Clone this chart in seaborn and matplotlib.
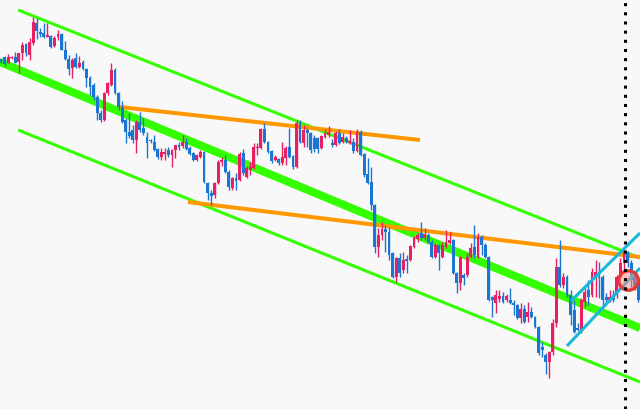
import numpy as np
import pandas as pd
import seaborn as sns
import matplotlib
matplotlib.use("Agg")
import matplotlib.pyplot as plt

# candle data (arbitrary price units)
opens = [341, 343, 337, 342, 343, 338, 347, 356, 345, 357, 377, 368, 367, 363, 364, 354, 363, 366, 350, 341,
         332, 342, 333, 338, 331, 322, 315, 303, 287, 280, 307, 315, 330, 307, 293, 280, 268, 270, 260, 278,
         272, 263, 260, 258, 251, 243, 246, 250, 245, 250, 255, 254, 258, 252, 247, 240, 243, 248, 217, 207,
         205, 217, 238, 240, 228, 212, 222, 220, 247, 223, 230, 232, 252, 252, 271, 258, 249, 240, 241, 237,
         242, 253, 244, 233, 277, 257, 270, 267, 262, 262, 252, 263, 265, 257, 255, 267, 258, 262, 257, 258,
         249, 268, 246, 226, 218, 195, 153, 165, 171, 168, 147, 123, 142, 130, 141, 140, 153, 161, 167, 162,
         165, 158, 143, 155, 143, 153, 157, 160, 127, 117, 125, 125, 143, 153, 143, 163, 155, 143, 103, 97,
         101, 104, 100, 100, 97, 95, 82, 91, 83, 88, 83, 73, 53, 45, 38, 48, 77, 133, 115, 123,
         105, 90, 72, 68, 98, 110, 105, 123, 123, 123, 103, 100, 105, 105, 123, 137, 147, 137, 125, 122]
highs = [342, 344, 346, 344, 348, 347, 358, 357, 362, 383, 382, 372, 377, 377, 365, 364, 370, 367, 359, 345,
         342, 347, 344, 340, 332, 324, 317, 305, 290, 308, 318, 337, 332, 308, 299, 282, 287, 275, 280, 288,
         282, 268, 261, 265, 252, 252, 252, 253, 251, 255, 258, 265, 262, 254, 248, 246, 250, 249, 218, 210,
         218, 240, 243, 245, 230, 223, 227, 248, 251, 234, 238, 257, 257, 272, 277, 259, 250, 245, 242, 258,
         254, 272, 245, 280, 280, 275, 272, 268, 265, 263, 265, 271, 274, 261, 269, 271, 267, 264, 270, 262,
         271, 270, 247, 242, 233, 196, 172, 178, 175, 173, 148, 143, 147, 148, 145, 155, 164, 167, 178, 172,
         167, 160, 157, 156, 158, 170, 168, 161, 128, 144, 127, 147, 157, 175, 167, 165, 157, 144, 104, 110,
         110, 108, 106, 112, 100, 96, 97, 95, 98, 93, 84, 74, 58, 47, 49, 81, 142, 160, 127, 125,
         110, 100, 77, 102, 112, 120, 132, 140, 138, 125, 107, 110, 110, 125, 142, 152, 149, 140, 128, 124]
lows = [337, 334, 337, 341, 337, 327, 340, 344, 340, 355, 361, 363, 362, 363, 352, 353, 360, 350, 340, 325,
        322, 332, 332, 330, 313, 305, 300, 280, 278, 279, 305, 314, 306, 290, 277, 257, 262, 257, 247, 268,
        265, 242, 257, 249, 241, 240, 240, 243, 233, 242, 250, 252, 250, 245, 239, 239, 242, 217, 200, 195,
        202, 216, 234, 227, 210, 210, 210, 219, 225, 222, 225, 231, 245, 251, 257, 247, 237, 239, 235, 235,
        235, 242, 231, 232, 257, 253, 253, 247, 248, 247, 251, 262, 263, 253, 254, 256, 257, 257, 256, 247,
        248, 244, 223, 216, 190, 147, 143, 160, 148, 140, 122, 118, 123, 127, 127, 139, 152, 158, 160, 160,
        157, 142, 142, 130, 142, 152, 156, 126, 107, 110, 115, 123, 142, 142, 142, 145, 142, 99, 83, 87,
        98, 97, 98, 96, 85, 81, 77, 77, 78, 82, 72, 45, 43, 26, 22, 45, 73, 113, 112, 103,
        75, 67, 69, 67, 93, 95, 103, 103, 102, 93, 98, 98, 98, 102, 122, 127, 133, 113, 110, 98]
closes = [338, 336, 343, 343, 337, 347, 355, 347, 358, 378, 369, 366, 363, 365, 353, 362, 366, 350, 341, 331,
          340, 333, 337, 331, 322, 313, 303, 287, 280, 307, 317, 330, 307, 293, 278, 268, 264, 260, 278, 270,
          267, 257, 259, 250, 243, 248, 248, 245, 250, 255, 253, 258, 251, 246, 240, 245, 248, 218, 207, 204,
          217, 238, 240, 228, 213, 222, 219, 246, 227, 232, 233, 253, 253, 271, 258, 248, 239, 243, 237, 243,
          252, 243, 233, 277, 258, 270, 267, 250, 251, 251, 264, 267, 268, 255, 267, 257, 263, 258, 259, 249,
          268, 245, 225, 217, 195, 153, 165, 171, 168, 145, 123, 142, 127, 140, 139, 154, 162, 165, 162, 166,
          158, 143, 155, 147, 155, 158, 160, 127, 117, 143, 122, 143, 152, 145, 163, 155, 143, 100, 100, 105,
          104, 98, 104, 97, 95, 82, 91, 78, 88, 83, 73, 47, 50, 38, 48, 77, 133, 115, 123, 105,
          85, 68, 70, 100, 108, 103, 128, 128, 122, 100, 100, 103, 100, 123, 137, 150, 137, 120, 112, 100]

# drawn objects: (candle index, price) end points
channel_mid = [(-0.3, 338), (179.5, 72)]
channel_top = [(4.8, 390), (179.5, 142)]
channel_bot = [(4.8, 270), (179.5, 18)]
orange_top = [(33.4, 293), (117.7, 260)]
orange_bot = [(52.5, 198), (179.5, 143)]
cyan_top = [(160.1, 99), (179.5, 167)]
cyan_bot = [(159.0, 54), (179.5, 132)]
marker_point = (176.1, 120)
cursor_index = 175.4

df = pd.DataFrame({"open": opens, "high": highs, "low": lows, "close": closes})
df["idx"] = np.arange(len(df))
df["up"] = df["close"] >= df["open"]

sns.set_theme(style="white")
bg = "#f8f8f8"
up_color = "#e91e63"
down_color = "#1976d2"

fig = plt.figure(figsize=(6.4, 4.09), dpi=100, facecolor=bg)
ax = fig.add_axes([0, 0, 1, 1])
ax.set_facecolor(bg)

def trend(pts, color, lw, z):
    line = pd.DataFrame(pts, columns=["x", "y"])
    sns.lineplot(data=line, x="x", y="y", color=color, lw=lw, ax=ax, zorder=z,
                 solid_capstyle="butt", estimator=None, sort=False)

trend(channel_mid, "#33ff00", 5.8, 1)
trend(channel_top, "#33ff00", 2.2, 1)
trend(channel_bot, "#33ff00", 2.2, 1)
trend(orange_top, "#ff9800", 2.9, 1)
trend(orange_bot, "#ff9800", 2.9, 1)

colors = np.where(df["up"], up_color, down_color)
ax.vlines(df["idx"], df["low"], df["high"], colors=colors, lw=1.0, zorder=3)
body_lo = df[["open", "close"]].min(axis=1)
body_h = (df["close"] - df["open"]).abs().clip(lower=1.5)
ax.bar(df["idx"], body_h, bottom=body_lo, width=0.8, color=colors, lw=0, zorder=3)

trend(cyan_top, "#1ab8d8", 2.2, 4)
trend(cyan_bot, "#1ab8d8", 2.2, 4)

ax.plot(*marker_point, marker="o", ms=14, mew=2.4, mec="#e53935",
        mfc=(1.0, 0.55, 0.55, 0.5), zorder=5)

ax.axvline(cursor_index, color="black", lw=2.2, ls=(0, (1, 2)),
           dash_capstyle="butt", zorder=6)

ax.set_xlim(-0.3, 179.5)
ax.set_ylim(-9, 400)
ax.set_axis_off()
ax.set_xlabel("")
ax.set_ylabel("")

fig.savefig("out.png", dpi=100, facecolor=bg)
